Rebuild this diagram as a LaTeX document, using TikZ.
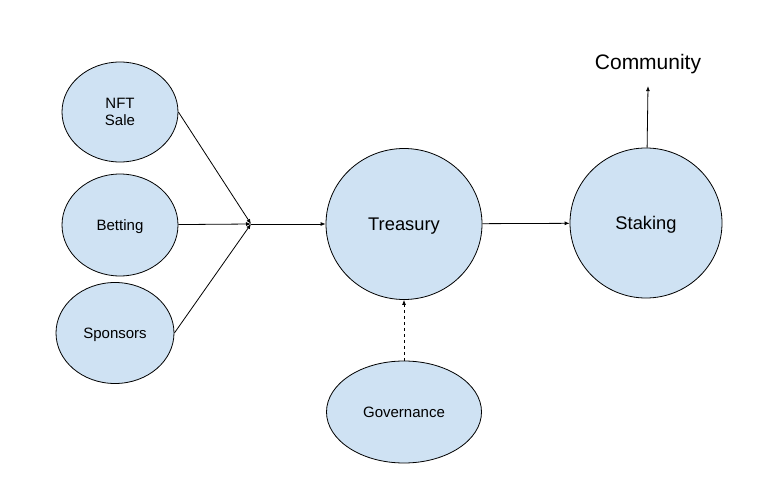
\documentclass[tikz,border=0pt]{standalone}
\usepackage{fontspec}
\setmainfont{Liberation Sans}
\usetikzlibrary{shapes.geometric,arrows.meta}
\definecolor{blobblue}{HTML}{CFE2F3}
\tikzset{
  blob/.style={ellipse, draw, fill=blobblue, line width=0.8pt, inner sep=0pt, align=center, text depth=0pt},
  small/.style={blob, font=\fontsize{15}{17}\selectfont},
  big/.style={blob, font=\fontsize{18.3}{20}\selectfont},
  tip/.style={-{Latex[length=5pt,width=4pt]}, line width=0.8pt}
}
\begin{document}
\begin{tikzpicture}[x=1pt,y=-1pt]
      \useasboundingbox (0,0) rectangle (763,500);
      \draw
        (120,112) node[small, minimum width=116pt, minimum height=100pt] (nft){NFT\\Sale}
        (120,225) node[small, minimum width=116pt, minimum height=102pt] (bet){Betting}
        (115,333) node[small, minimum width=118pt, minimum height=101pt] (spon){Sponsors}
        (404,224) node[big, minimum width=156pt, minimum height=151pt] (treas){Treasury}
        (646,223) node[big, minimum width=152pt, minimum height=150pt] (stak){Staking}
        (404,412) node[small, minimum width=155pt, minimum height=102pt] (gov){Governance}
        (648,61.5) node[font=\fontsize{21}{24}\selectfont, text depth=0pt] (comm){Community};
      \coordinate (join) at (251,224);
      \begin{scope}[tip]
        \draw (nft.east) to (join);
        \draw (bet) to (join);
        \draw (spon.east) to (join);
        \draw (join) to (treas);
        \draw (treas) to (stak);
        \draw (stak) to ([yshift=-13.5pt]comm.south);
        \draw[dashed] (gov) to (treas);
      \end{scope}
    \end{tikzpicture}
\end{document}
